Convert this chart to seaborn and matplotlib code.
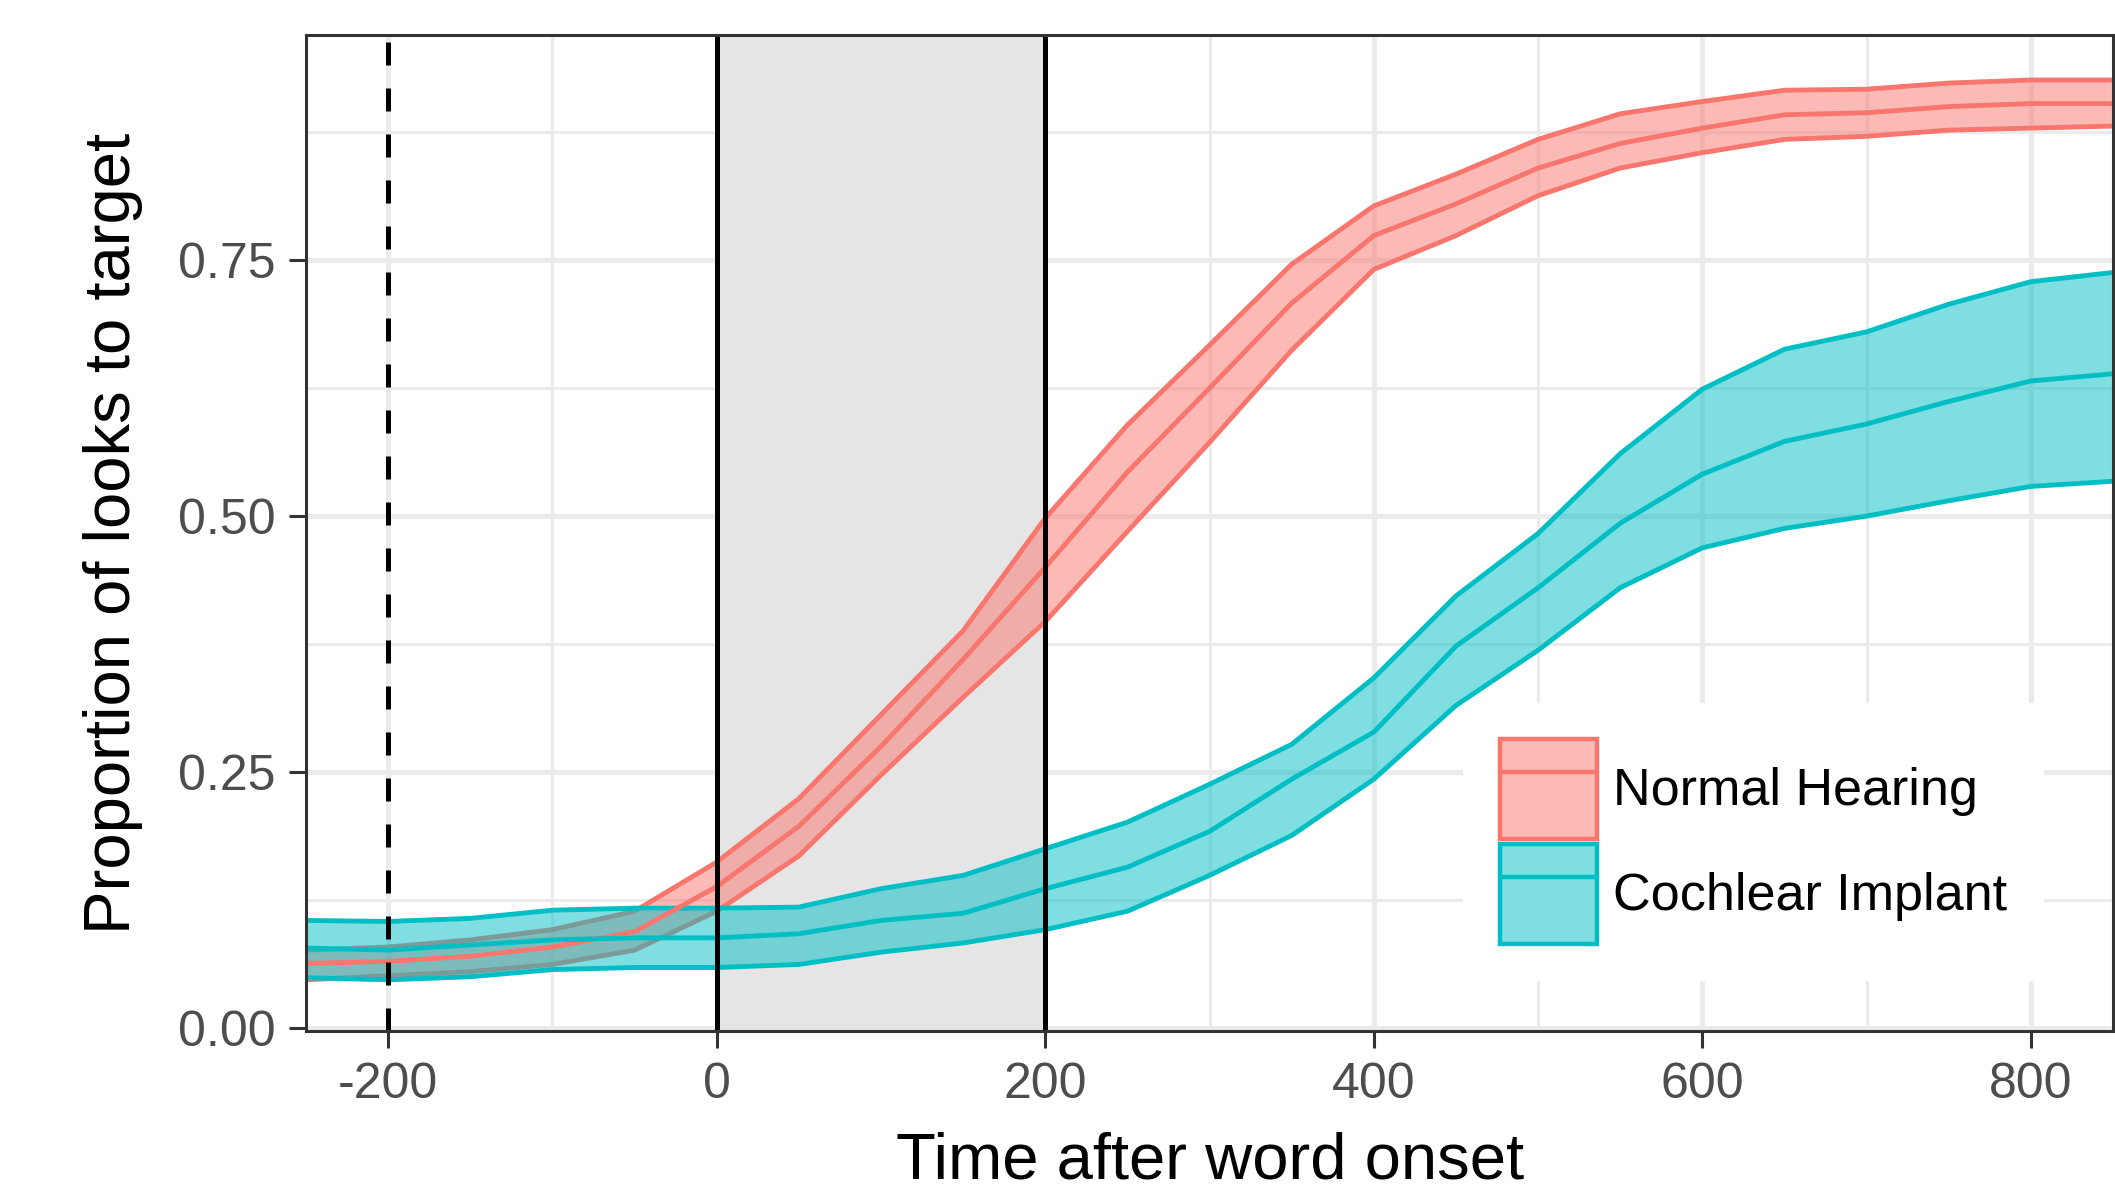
import numpy as np
import pandas as pd
import matplotlib
matplotlib.use('Agg')
import matplotlib.pyplot as plt
import matplotlib.colors as mcolors
from matplotlib.patches import Patch
from matplotlib.lines import Line2D
import seaborn as sns

# time after word onset (ms)
time = [-250, -200, -150, -100, -50, 0, 50, 100, 150, 200, 250, 300,
        350, 400, 450, 500, 550, 600, 650, 700, 750, 800, 850]

# Normal Hearing: mean and ribbon bounds
nh_mean = [0.063, 0.065, 0.070, 0.079, 0.094, 0.138, 0.197, 0.275, 0.360, 0.450, 0.543, 0.625,
           0.708, 0.774, 0.805, 0.840, 0.864, 0.879, 0.892, 0.894, 0.900, 0.903, 0.903]
nh_lo = [0.047, 0.051, 0.055, 0.062, 0.076, 0.114, 0.168, 0.247, 0.323, 0.397, 0.485, 0.572,
         0.662, 0.741, 0.774, 0.813, 0.840, 0.855, 0.868, 0.871, 0.877, 0.879, 0.881]
nh_hi = [0.076, 0.079, 0.086, 0.096, 0.114, 0.162, 0.224, 0.306, 0.388, 0.498, 0.589, 0.667,
         0.746, 0.803, 0.834, 0.868, 0.893, 0.905, 0.916, 0.917, 0.923, 0.926, 0.926]

# Cochlear Implant: mean and ribbon bounds
ci_mean = [0.078, 0.076, 0.081, 0.086, 0.088, 0.088, 0.092, 0.105, 0.112, 0.136, 0.157, 0.192,
           0.243, 0.289, 0.373, 0.430, 0.493, 0.541, 0.573, 0.590, 0.612, 0.632, 0.639]
ci_lo = [0.049, 0.047, 0.050, 0.057, 0.059, 0.059, 0.062, 0.074, 0.083, 0.096, 0.114, 0.149,
         0.188, 0.243, 0.315, 0.369, 0.430, 0.469, 0.488, 0.500, 0.515, 0.529, 0.534]
ci_hi = [0.105, 0.104, 0.107, 0.115, 0.117, 0.117, 0.118, 0.136, 0.149, 0.175, 0.201, 0.238,
         0.277, 0.342, 0.422, 0.483, 0.561, 0.624, 0.663, 0.680, 0.707, 0.729, 0.738]

groups = ['Normal Hearing', 'Cochlear Implant']
colors = {'Normal Hearing': '#F8766D', 'Cochlear Implant': '#00BFC4'}

df = pd.concat([
    pd.DataFrame({'time': time, 'prop': nh_mean, 'lo': nh_lo, 'hi': nh_hi, 'group': 'Normal Hearing'}),
    pd.DataFrame({'time': time, 'prop': ci_mean, 'lo': ci_lo, 'hi': ci_hi, 'group': 'Cochlear Implant'}),
])

sns.set_theme(style='whitegrid')
plt.rcParams['font.family'] = ['Liberation Sans', 'DejaVu Sans']
plt.rcParams['axes.unicode_minus'] = False

fig = plt.figure(figsize=(21.15, 11.93), dpi=100)
ax = fig.add_axes([0.1447, 0.1358, 0.8544, 0.8349])

# analysis window
ax.axvspan(0, 200, color='#E5E5E5', lw=0, zorder=0.8)

# ribbons
for g in groups:
    d = df[df.group == g]
    ax.fill_between(d.time, d.lo, d.hi, color=colors[g], alpha=0.5, lw=0, zorder=2)
    ax.plot(d.time, d.lo, color=colors[g], lw=3.5, zorder=2)
    ax.plot(d.time, d.hi, color=colors[g], lw=3.5, zorder=2)

sns.lineplot(data=df, x='time', y='prop', hue='group', palette=colors,
             linewidth=3.5, legend=False, ax=ax, zorder=3)

ax.axvline(0, color='black', lw=3.6, zorder=4)
ax.axvline(200, color='black', lw=3.6, zorder=4)
ax.axvline(-200, color='black', lw=3.6, ls=(0, (4.6, 4.6)), zorder=4)

ax.set_xlim(-250, 850)
ax.set_ylim(-0.003, 0.97)
ax.set_xticks([-200, 0, 200, 400, 600, 800])
ax.set_xticks([-100, 100, 300, 500, 700], minor=True)
ax.set_yticks([0, 0.25, 0.5, 0.75])
ax.set_yticks([0.125, 0.375, 0.625, 0.875], minor=True)
ax.set_yticklabels(['0.00', '0.25', '0.50', '0.75'])

ax.set_axisbelow(True)
ax.grid(which='major', color='#EBEBEB', lw=3.6)
ax.grid(which='minor', color='#EBEBEB', lw=2.2)
ax.tick_params(which='major', labelsize=36, color='#333333', labelcolor='#4D4D4D',
               length=12, width=2.2, pad=10, bottom=True, left=True)
ax.tick_params(which='minor', length=0)
for s in ax.spines.values():
    s.set_visible(True)
    s.set_color('#333333')
    s.set_linewidth(2.2)
    s.set_zorder(5)

ax.set_xlabel('Time after word onset', fontsize=47, color='black')
ax.set_ylabel('Proportion of looks to target', fontsize=47, color='black')
ax.xaxis.set_label_coords(0.5, -0.101)
ax.yaxis.set_label_coords(-0.090, 0.5)

handles = [(Patch(facecolor=mcolors.to_rgba(colors[g], 0.5), edgecolor=colors[g], lw=3.2),
            Line2D([], [], color=colors[g], lw=3.2)) for g in groups]
leg = ax.legend(handles, groups, loc='center', bbox_to_anchor=(0.801, 0.19),
                fontsize=37.5, handlelength=1.87, handleheight=2.58, handletextpad=0.3,
                labelspacing=0.1, borderpad=0.7, frameon=True, fancybox=False,
                facecolor='white', edgecolor='none', framealpha=1, labelcolor='black')
leg.set_zorder(6)

fig.savefig('out.png', dpi=100)
